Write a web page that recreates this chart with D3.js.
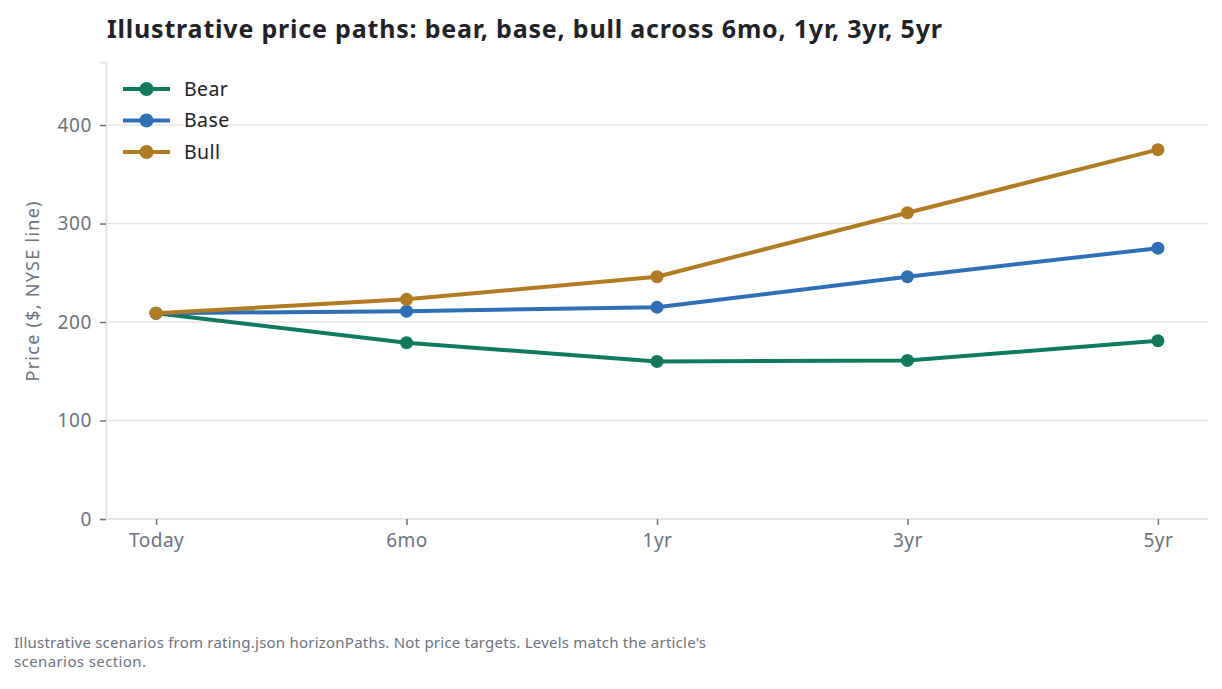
<!DOCTYPE html>
<html><head><meta charset="utf-8">
<script src="https://cdn.jsdelivr.net/npm/d3@7"></script>
<style>
body{margin:0;background:#fff;}
svg{display:block;font-family:"Noto Sans","Open Sans",sans-serif;}
</style></head>
<body><svg id="c" width="1222" height="689"></svg>
<script>
const horizons = ["Today","6mo","1yr","3yr","5yr"];
const bear = [209,179,160,161,181];
const base = [209,211,215,246,275];
const bull = [209,223,246,311,375];
const seriesNames = ["Bear","Base","Bull"];
const seriesColors = ["#0f7a5e","#2f6fb5","#b27b22"];
const yTicks = [0,100,200,300,400];
const series = [bear, base, bull];

const svg = d3.select("#c");
const L=106, R=1208, T=62, B=519;
const x = d3.scalePoint().domain(horizons).range([L,R]).padding(0.2);
const y = d3.scaleLinear().domain([0,464]).range([B,T]);

// grid
svg.append("g").selectAll("line").data(yTicks.filter(d=>d>0)).join("line")
  .attr("x1",L).attr("x2",R).attr("y1",d=>y(d)).attr("y2",d=>y(d))
  .attr("stroke","#e8e5e0").attr("stroke-width",1.5);

// axes
const yAx = svg.append("g").attr("transform",`translate(${L},0)`)
  .call(d3.axisLeft(y).tickValues(yTicks).tickSize(6).tickPadding(8));
yAx.select(".domain").attr("stroke","#e8e5e0").attr("stroke-width",2);
yAx.selectAll(".tick line").attr("stroke","#6b7280").attr("stroke-width",1.5);
yAx.selectAll("text").attr("fill","#6b7280").attr("font-size",19).attr("font-family","Noto Sans").attr("letter-spacing",0.6);

const xAx = svg.append("g").attr("transform",`translate(0,${B})`)
  .call(d3.axisBottom(x).tickSize(6).tickPadding(9));
xAx.select(".domain").attr("d",`M${L},0H${R}`).attr("stroke","#e8e5e0").attr("stroke-width",2);
xAx.selectAll(".tick line").attr("stroke","#6b7280").attr("stroke-width",1.5);
xAx.selectAll("text").attr("fill","#6b7280").attr("font-size",19).attr("font-family","Noto Sans").attr("letter-spacing",0.5);

// y label
svg.append("text").attr("transform",`translate(39,${(T+B)/2 + 1}) rotate(-90)`)
  .attr("text-anchor","middle").attr("fill","#6b7280").attr("font-size",18)
  .attr("textLength",180).attr("lengthAdjust","spacing")
  .text("Price ($, NYSE line)");

// lines
const line = d3.line().x((d,i)=>x(horizons[i])).y(d=>y(d));
series.forEach((s,k)=>{
  const g = svg.append("g");
  g.append("path").datum(s).attr("d",line).attr("fill","none")
    .attr("stroke",seriesColors[k]).attr("stroke-width",4).attr("stroke-linejoin","round");
  g.selectAll("circle").data(s).join("circle")
    .attr("cx",(d,i)=>x(horizons[i])).attr("cy",d=>y(d)).attr("r",6.5)
    .attr("fill",seriesColors[k]);
});

// legend
const lg = svg.append("g");
seriesNames.forEach((n,k)=>{
  const yy = 89 + k*31.5;
  lg.append("line").attr("x1",123).attr("x2",170).attr("y1",yy).attr("y2",yy)
    .attr("stroke",seriesColors[k]).attr("stroke-width",4);
  lg.append("circle").attr("cx",146.5).attr("cy",yy).attr("r",7).attr("fill",seriesColors[k]);
  lg.append("text").attr("x",184).attr("y",yy).attr("dy","0.35em")
    .attr("font-size",19.5).attr("letter-spacing",0.4).attr("fill","#222").text(n);
});

// title
svg.append("text").attr("x",107).attr("y",38).attr("font-size",25).attr("font-weight","bold")
  .attr("fill","#1f2328").attr("textLength",835).attr("lengthAdjust","spacing")
  .text("Illustrative price paths: bear, base, bull across 6mo, 1yr, 3yr, 5yr");

// footnote
const fn = svg.append("text").attr("font-size",15).attr("fill","#6b7280");
fn.append("tspan").attr("x",14).attr("y",648).attr("textLength",692).attr("lengthAdjust","spacing")
  .text("Illustrative scenarios from rating.json horizonPaths. Not price targets. Levels match the article's");
fn.append("tspan").attr("x",14).attr("y",667).attr("textLength",132).attr("lengthAdjust","spacing")
  .text("scenarios section.");
</script></body></html>
